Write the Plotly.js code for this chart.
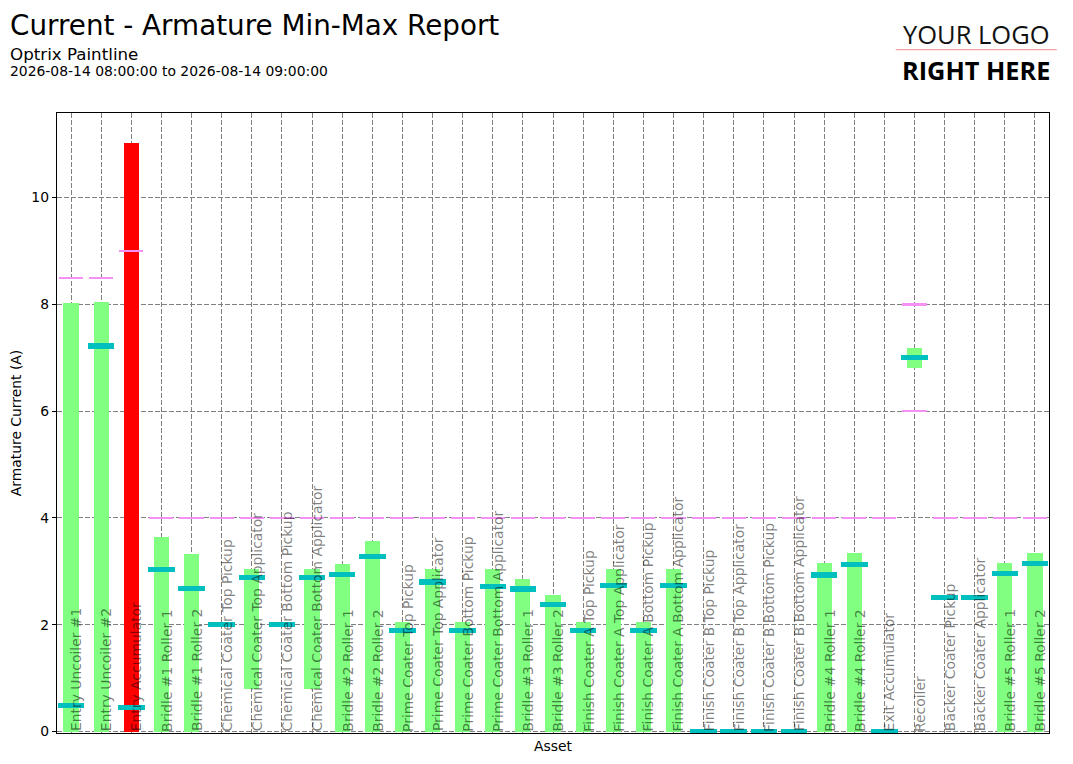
<!DOCTYPE html>
<html>
<head>
<meta charset="utf-8">
<script src="https://cdn.plot.ly/plotly-3.0.1.min.js"></script>
<style>
html,body{margin:0;padding:0;background:#fff;}
#chart{width:1073px;height:764px;}
</style>
</head>
<body>
<div id="chart"></div>
<script>
// ---- data ----
const assets = [
  "Entry Uncoiler #1", "Entry Uncoiler #2", "Entry Accumulator",
  "Bridle #1 Roller 1", "Bridle #1 Roller 2",
  "Chemical Coater Top Pickup", "Chemical Coater Top Applicator",
  "Chemical Coater Bottom Pickup", "Chemical Coater Bottom Applicator",
  "Bridle #2 Roller 1", "Bridle #2 Roller 2",
  "Prime Coater Top Pickup", "Prime Coater Top Applicator",
  "Prime Coater Bottom Pickup", "Prime Coater Bottom Applicator",
  "Bridle #3 Roller 1", "Bridle #3 Roller 2",
  "Finish Coater A Top Pickup", "Finish Coater A Top Applicator",
  "Finish Coater A Bottom Pickup", "Finish Coater A Bottom Applicator",
  "Finish Coater B Top Pickup", "Finish Coater B Top Applicator",
  "Finish Coater B Bottom Pickup", "Finish Coater B Bottom Applicator",
  "Bridle #4 Roller 1", "Bridle #4 Roller 2",
  "Exit Accumulator", "Recoiler",
  "Backer Coater Pickup", "Backer Coater Applicator",
  "Bridle #5 Roller 1", "Bridle #5 Roller 2"
];
const minValues = [
  0, 0, 0,
  0, 0,
  2.0, 0.80, 2.0, 0.80,
  0, 0,
  0, 0, 0, 0,
  0, 0,
  0, 0, 0, 0,
  0, 0, 0, 0,
  0, 0,
  0, 6.80,
  2.5, 2.5,
  0, 0
];
const maxValues = [
  8.03, 8.05, 11.03,
  3.65, 3.33,
  2.0, 3.05, 2.0, 3.05,
  3.14, 3.56,
  2.06, 3.05, 2.06, 3.05,
  2.85, 2.55,
  2.06, 3.05, 2.06, 3.05,
  0, 0, 0, 0,
  3.15, 3.35,
  0, 7.19,
  2.5, 2.5,
  3.15, 3.35
];
const avgValues = [
  0.49, 7.22, 0.45,
  3.03, 2.68,
  2.01, 2.89, 2.01, 2.89,
  2.94, 3.28,
  1.89, 2.80, 1.89, 2.72,
  2.67, 2.38,
  1.89, 2.73, 1.89, 2.73,
  0, 0, 0, 0,
  2.93, 3.13,
  0, 7.00,
  2.51, 2.51,
  2.96, 3.15
];
const highLimits = [
  8.5, 8.5, 9.0,
  4, 4,
  4, 4, 4, 4,
  4, 4,
  4, 4, 4, 4,
  4, 4,
  4, 4, 4, 4,
  4, 4, 4, 4,
  4, 4,
  4, 8.0,
  4, 4,
  4, 4
];
const lowLimits = assets.map((a, i) => i === 28 ? 6.0 : null);
const yTicks = [0, 2, 4, 6, 8, 10];

// ---- styling ----
const FONT = "DejaVu Sans, Liberation Sans, sans-serif";
const GREEN = "#80ff80", RED = "#ff0000", CYAN = "#00bfbf", PINK = "#f590f5";
const AVG_H = 0.1, LIM_H = 0.042;

const rangeColors = maxValues.map((v, i) => v > highLimits[i] ? RED : GREEN);

const traces = [
  { type: "bar", x: assets, base: minValues, y: maxValues.map((v, i) => v - minValues[i]),
    width: 0.5, marker: { color: rangeColors }, hoverinfo: "skip", showlegend: false },
  { type: "bar", x: assets, base: highLimits.map(v => v - LIM_H / 2), y: highLimits.map(() => LIM_H),
    width: 0.8, marker: { color: PINK }, hoverinfo: "skip", showlegend: false },
  { type: "bar", x: assets, base: lowLimits.map(v => v === null ? null : v - LIM_H / 2),
    y: lowLimits.map(v => v === null ? null : LIM_H),
    width: 0.8, marker: { color: PINK }, hoverinfo: "skip", showlegend: false },
  { type: "bar", x: assets, base: avgValues.map(v => v - AVG_H / 2), y: avgValues.map(() => AVG_H),
    width: 0.88, marker: { color: CYAN }, hoverinfo: "skip", showlegend: false }
];

const L = 57, R = 1049.3, T = 113.3, B = 733.5;
const py = p => (B - p) / (B - T);          // pixel y -> paper y
const px = p => (p - L) / (R - L);          // pixel x -> paper x

const annotations = assets.map(a => ({
  x: a, y: 0, xref: "x", yref: "y", text: a, textangle: -90, showarrow: false,
  xanchor: "left", yanchor: "bottom", xshift: -5, yshift: -2,
  font: { family: FONT, size: 13.9, color: "rgba(0,0,0,0.5)" }
}));
annotations.push(
  { xref: "paper", yref: "paper", x: px(8), y: py(26), xanchor: "left", yanchor: "middle", showarrow: false,
    text: "Current - Armature Min-Max Report", font: { family: FONT, size: 27.8, color: "#000" } },
  { xref: "paper", yref: "paper", x: px(8), y: py(54), xanchor: "left", yanchor: "middle", showarrow: false,
    text: "Optrix Paintline", font: { family: FONT, size: 16.7, color: "#000" } },
  { xref: "paper", yref: "paper", x: px(8), y: py(71), xanchor: "left", yanchor: "middle", showarrow: false,
    text: "2026-08-14 08:00:00 to 2026-08-14 09:00:00", font: { family: FONT, size: 13.9, color: "#000" } },
  { xref: "paper", yref: "paper", x: px(976.5), y: py(34), xanchor: "center", yanchor: "middle", showarrow: false,
    text: "YOUR LOGO", font: { family: "Open Sans, Lato, sans-serif", size: 25.5, color: "#111" } },
  { xref: "paper", yref: "paper", x: px(976.5), y: py(70), xanchor: "center", yanchor: "middle", showarrow: false,
    text: "<b>RIGHT HERE</b>", font: { family: "Open Sans, sans-serif", size: 25.3, color: "#000" } }
);

const layout = {
  width: 1073, height: 764,
  margin: { l: L, r: 1073 - R, t: T, b: 764 - B, pad: 0 },
  paper_bgcolor: "#fff", plot_bgcolor: "#fff",
  barmode: "overlay", bargap: 0,
  font: { family: FONT, size: 13.9, color: "#000" },
  xaxis: {
    type: "category", range: [-0.465, assets.length - 1 + 0.465],
    showticklabels: false, ticks: "",
    showgrid: true, gridcolor: "#808080", griddash: "5px,2px", gridwidth: 1,
    showline: true, linecolor: "#000", linewidth: 1.2, mirror: true, zeroline: false,
    title: { text: "Asset", font: { family: FONT, size: 13.9, color: "#000" }, standoff: 8 }
  },
  yaxis: {
    range: [-0.028, 11.585], tickvals: yTicks, ticktext: yTicks.map(String),
    ticks: "outside", ticklen: 4, tickcolor: "#000", tickfont: { family: FONT, size: 13.9, color: "#000" },
    showgrid: true, gridcolor: "#808080", griddash: "5px,2px", gridwidth: 1,
    showline: true, linecolor: "#000", linewidth: 1.2, mirror: true, zeroline: false,
    title: { text: "Armature Current (A)", font: { family: FONT, size: 13.9, color: "#000" }, standoff: 6 }
  },
  shapes: [
    { type: "line", xref: "paper", yref: "paper", x0: px(896), x1: px(1057), y0: py(50), y1: py(50),
      line: { color: "#f08a8a", width: 1 } }
  ],
  annotations: annotations
};

Plotly.newPlot("chart", traces, layout, { staticPlot: true, displayModeBar: false });
</script>
</body>
</html>
